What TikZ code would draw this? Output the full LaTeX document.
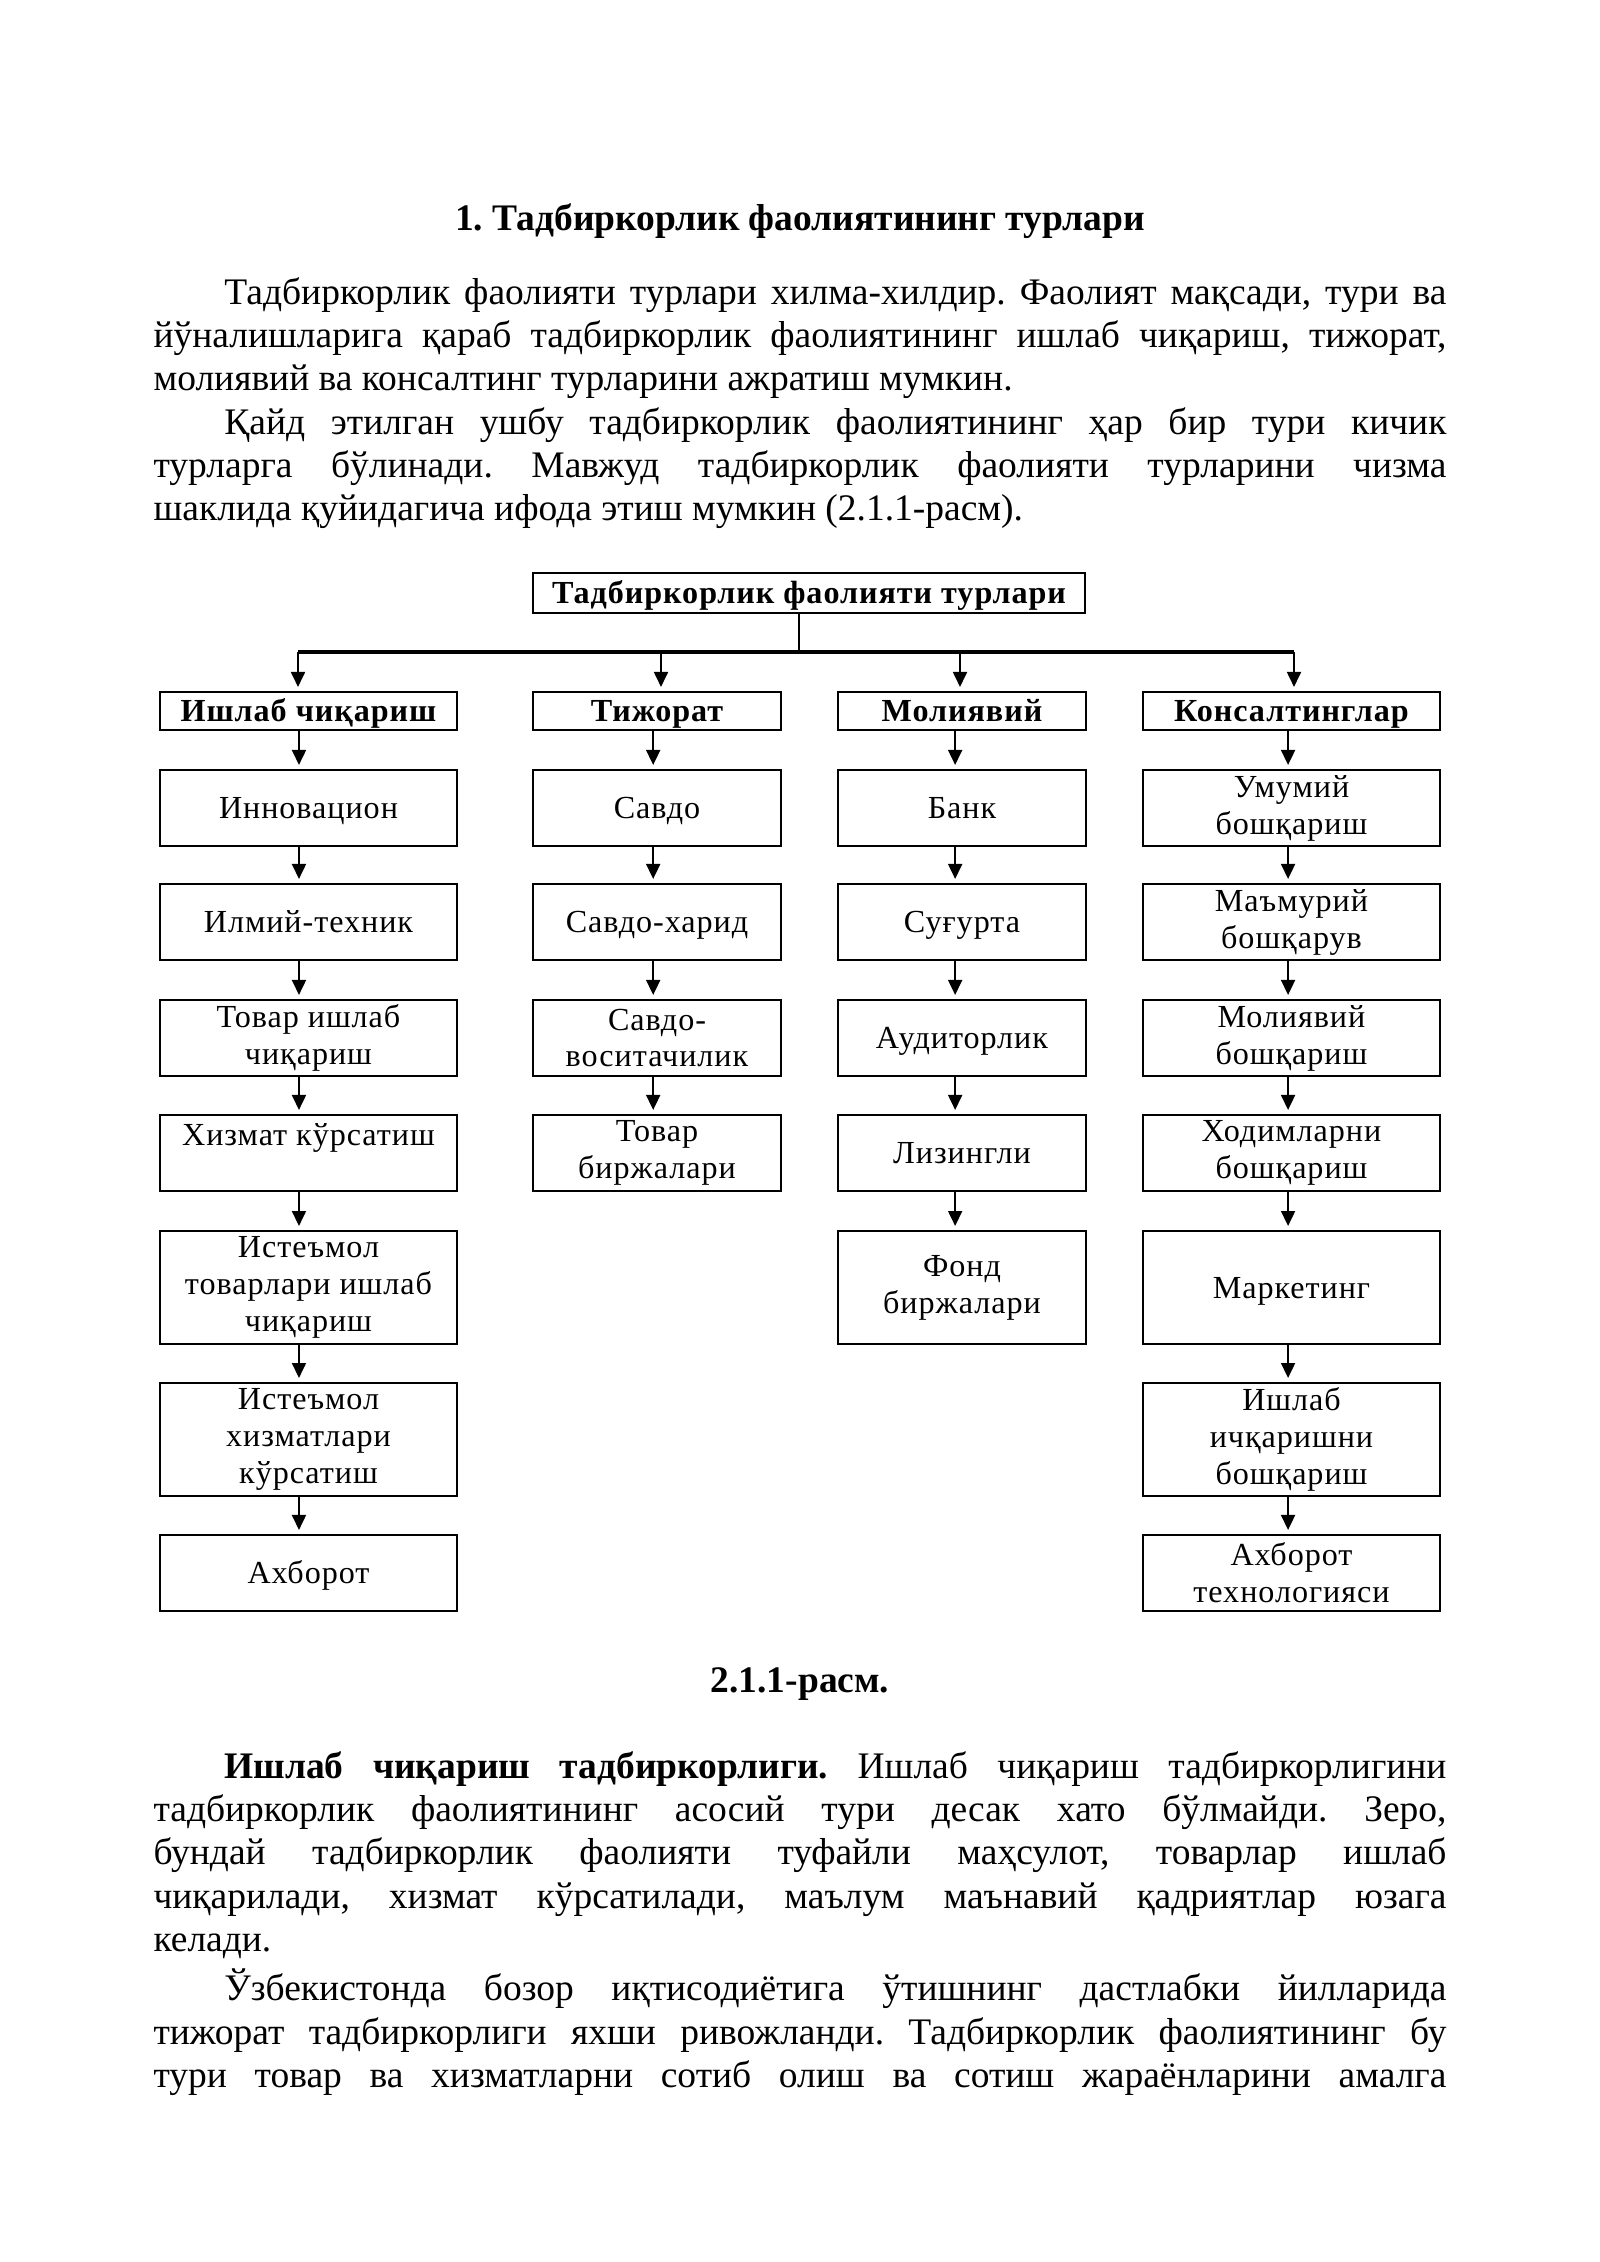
\documentclass[tikz,border=0pt]{standalone}
\usepackage{fontspec}
\setmainfont{Liberation Serif}
\newfontfamily\boxfont[LetterSpace=3]{Liberation Serif}
\usetikzlibrary{arrows.meta}
\frenchspacing
\tolerance=10000
\hyphenpenalty=10000

\begin{document}
\begin{tikzpicture}[x=0.13125mm, y=-0.13125mm,
  >={Triangle[length=5.6pt,width=5.2pt]},
  box/.style={draw, line width=0.75pt, inner sep=0pt, align=center, font=\boxfont\fontsize{12}{13.8}\selectfont,
    execute at begin node={\rule{0pt}{11pt}}},
  wide/.style={box, minimum width=38.98mm},
  slim/.style={box, minimum width=32.55mm},
  low/.style={minimum height=9.98mm},
  high/.style={minimum height=14.83mm},
  one/.style={text height=10.4pt, text depth=2.2pt},
  head/.style={one, minimum height=4.99mm, font=\boxfont\fontsize{12}{13.8}\selectfont\bfseries},
  arr/.style={->, line width=0.75pt, shorten >=1.5pt},
  para/.style={anchor=base west, inner sep=0pt, text width=169.71mm, align=justify,
    font=\fontsize{14}{16.2}\selectfont}]

\useasboundingbox (0,0) rectangle (1600,2262);

\node[anchor=base, font=\fontsize{14}{16.2}\selectfont\bfseries] (title) at (800,230) {1. Тадбиркорлик фаолиятининг турлари};
\node[para] (intro) at (153,304) {\hspace*{9.3mm}Тадбиркорлик фаолияти турлари хилма-хилдир. Фаолият мақсади, тури ва\linebreak
йўналишларига қараб тадбиркорлик фаолиятининг ишлаб чиқариш, тижорат,\linebreak
молиявий ва консалтинг турларини ажратиш мумкин.\par
\hspace*{9.3mm}Қайд этилган ушбу тадбиркорлик фаолиятининг ҳар бир тури кичик\linebreak
турларга бўлинади. Мавжуд тадбиркорлик фаолияти турларини чизма\linebreak
шаклида қуйидагича ифода этиш мумкин (2.1.1-расм).};

\node[box, one, minimum width=72.45mm, minimum height=5.25mm, font=\boxfont\fontsize{12}{13.8}\selectfont\bfseries] (top) at (809,593) {Тадбиркорлик фаолияти турлари};
\coordinate (b1) at (298,652);
\coordinate (b2) at (661,652);
\coordinate (b3) at (960,652);
\coordinate (b4) at (1294,652);
\draw[line width=0.6pt] ([xshift=-1.3mm]top.south) -- ++(0,39);
\draw[line width=1.2pt] (b1) -- (b4);

\node[wide, head] (h1) at (308.5,711) {Ишлаб чиқариш};
\node[slim, head] (h2) at (657,711) {Тижорат};
\node[slim, head] (h3) at (962,711) {Молиявий};
\node[wide, head] (h4) at (1291.5,711) {Консалтинглар};

\draw[arr] (b1) -- (b1 |- h1.north);
\draw[arr] (b2) -- (b2 |- h2.north);
\draw[arr] (b3) -- (b3 |- h3.north);
\draw[arr] (b4) -- (b4 |- h4.north);

\node[wide, low, one] (i1) at (308.5,808) {Инновацион};
\node[wide, low, one] (i2) at (308.5,922) {Илмий-техник};
\node[wide, low] (i3) at (308.5,1038) {Товар ишлаб\\чиқариш};
\node[wide, low] (i4) at (308.5,1153) {Хизмат кўрсатиш\\ \mbox{}};
\node[wide, high] (i5) at (308.5,1287.5) {Истеъмол\\товарлари ишлаб\\чиқариш};
\node[wide, high] (i6) at (308.5,1439.5) {Истеъмол\\хизматлари\\кўрсатиш};
\node[wide, low, one] (i7) at (308.5,1573) {Ахборот};

\node[slim, low, one] (t1) at (657,808) {Савдо};
\node[slim, low, one] (t2) at (657,922) {Савдо-харид};
\node[slim, low] (t3) at (657,1038) {Савдо-\\воситачилик};
\node[slim, low] (t4) at (657,1153) {Товар\\биржалари};

\node[slim, low, one] (m1) at (962,808) {Банк};
\node[slim, low, one] (m2) at (962,922) {Суғурта};
\node[slim, low, one] (m3) at (962,1038) {Аудиторлик};
\node[slim, low, one] (m4) at (962,1153) {Лизингли};
\node[slim, high] (m5) at (962,1287.5) {Фонд\\биржалари};

\node[wide, low] (k1) at (1291.5,808) {Умумий\\бошқариш};
\node[wide, low] (k2) at (1291.5,922) {Маъмурий\\бошқарув};
\node[wide, low] (k3) at (1291.5,1038) {Молиявий\\бошқариш};
\node[wide, low] (k4) at (1291.5,1153) {Ходимларни\\бошқариш};
\node[wide, high, one] (k5) at (1291.5,1287.5) {Маркетинг};
\node[wide, high] (k6) at (1291.5,1439.5) {Ишлаб\\ичқаришни\\бошқариш};
\node[wide, low] (k7) at (1291.5,1573) {Ахборот\\технологияси};

\draw[arr] ([xshift=-1.25mm]h1.south) -- ([xshift=-1.25mm]i1.north);
\draw[arr] ([xshift=-1.25mm]i1.south) -- ([xshift=-1.25mm]i2.north);
\draw[arr] ([xshift=-1.25mm]i2.south) -- ([xshift=-1.25mm]i3.north);
\draw[arr] ([xshift=-1.25mm]i3.south) -- ([xshift=-1.25mm]i4.north);
\draw[arr] ([xshift=-1.25mm]i4.south) -- ([xshift=-1.25mm]i5.north);
\draw[arr] ([xshift=-1.25mm]i5.south) -- ([xshift=-1.25mm]i6.north);
\draw[arr] ([xshift=-1.25mm]i6.south) -- ([xshift=-1.25mm]i7.north);

\draw[arr] ([xshift=-0.5mm]h2.south) -- ([xshift=-0.5mm]t1.north);
\draw[arr] ([xshift=-0.5mm]t1.south) -- ([xshift=-0.5mm]t2.north);
\draw[arr] ([xshift=-0.5mm]t2.south) -- ([xshift=-0.5mm]t3.north);
\draw[arr] ([xshift=-0.5mm]t3.south) -- ([xshift=-0.5mm]t4.north);

\draw[arr] ([xshift=-0.9mm]h3.south) -- ([xshift=-0.9mm]m1.north);
\draw[arr] ([xshift=-0.9mm]m1.south) -- ([xshift=-0.9mm]m2.north);
\draw[arr] ([xshift=-0.9mm]m2.south) -- ([xshift=-0.9mm]m3.north);
\draw[arr] ([xshift=-0.9mm]m3.south) -- ([xshift=-0.9mm]m4.north);
\draw[arr] ([xshift=-0.9mm]m4.south) -- ([xshift=-0.9mm]m5.north);

\draw[arr] ([xshift=-0.45mm]h4.south) -- ([xshift=-0.45mm]k1.north);
\draw[arr] ([xshift=-0.45mm]k1.south) -- ([xshift=-0.45mm]k2.north);
\draw[arr] ([xshift=-0.45mm]k2.south) -- ([xshift=-0.45mm]k3.north);
\draw[arr] ([xshift=-0.45mm]k3.south) -- ([xshift=-0.45mm]k4.north);
\draw[arr] ([xshift=-0.45mm]k4.south) -- ([xshift=-0.45mm]k5.north);
\draw[arr] ([xshift=-0.45mm]k5.south) -- ([xshift=-0.45mm]k6.north);
\draw[arr] ([xshift=-0.45mm]k6.south) -- ([xshift=-0.45mm]k7.north);

\node[anchor=base, font=\fontsize{14}{16.2}\selectfont\bfseries] (cap) at (800,1692) {2.1.1-расм.};
\node[para] (body) at (153,1778) {\hspace*{9.3mm}\textbf{Ишлаб чиқариш тадбиркорлиги.} Ишлаб чиқариш тадбиркорлигини\linebreak
тадбиркорлик фаолиятининг асосий тури десак хато бўлмайди. Зеро,\linebreak
бундай тадбиркорлик фаолияти туфайли маҳсулот, товарлар ишлаб\linebreak
чиқарилади, хизмат кўрсатилади, маълум маънавий қадриятлар юзага\linebreak
келади.\par\vskip 2.2pt
\hspace*{9.3mm}Ўзбекистонда бозор иқтисодиётига ўтишнинг дастлабки йилларида\linebreak
тижорат тадбиркорлиги яхши ривожланди. Тадбиркорлик фаолиятининг бу\linebreak
тури товар ва хизматларни сотиб олиш ва сотиш жараёнларини амалга\parfillskip=0pt\par};
\end{tikzpicture}
\end{document}
